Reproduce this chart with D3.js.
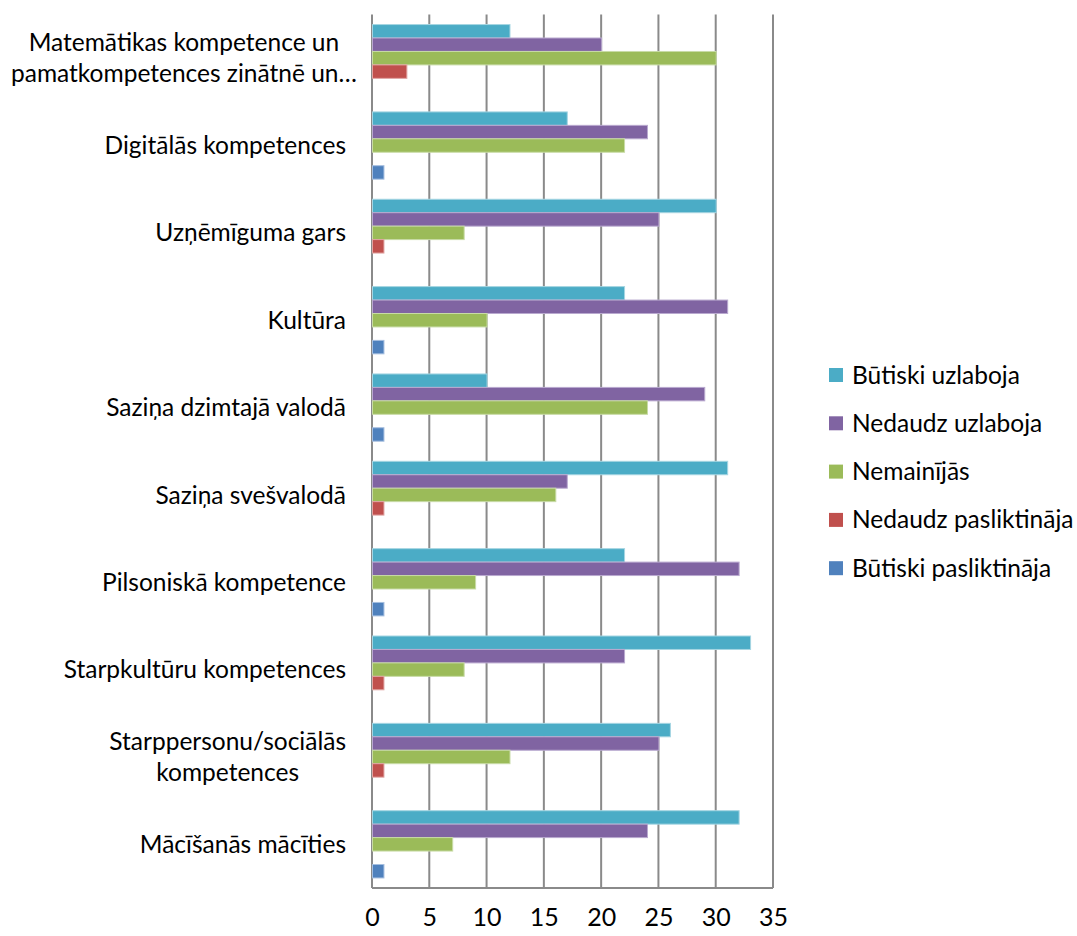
<!DOCTYPE html>
<html>
<head>
<meta charset="utf-8">
<script src="https://cdn.jsdelivr.net/npm/d3@7"></script>
<style>
  html, body { margin: 0; padding: 0; background: #fff; }
  svg { display: block; }
  text { font-family: Lato, "Open Sans", sans-serif; fill: #000; }
</style>
</head>
<body>
<svg id="chart" width="1077" height="936"></svg>
<script>
// Categories, top to bottom
const categories = [
  "Matemātikas kompetence un|pamatkompetences zinātnē un…",
  "Digitālās kompetences",
  "Uzņēmīguma gars",
  "Kultūra",
  "Saziņa dzimtajā valodā",
  "Saziņa svešvalodā",
  "Pilsoniskā kompetence",
  "Starpkultūru kompetences",
  "Starppersonu/sociālās|kompetences",
  "Mācīšanās mācīties"
];

const seriesNames = [
  "Būtiski uzlaboja",
  "Nedaudz uzlaboja",
  "Nemainījās",
  "Nedaudz pasliktināja",
  "Būtiski pasliktināja"
];

// Values per series, in category order
const butiskiUzlaboja     = [12, 17, 30, 22, 10, 31, 22, 33, 26, 32];
const nedaudzUzlaboja     = [20, 24, 25, 31, 29, 17, 32, 22, 25, 24];
const nemainijas          = [30, 22,  8, 10, 24, 16,  9,  8, 12,  7];
const nedaudzPasliktinaja = [ 3,  0,  1,  0,  0,  1,  0,  1,  1,  0];
const butiskiPasliktinaja = [ 0,  1,  0,  1,  1,  0,  1,  0,  0,  1];

const xTicks = [0, 5, 10, 15, 20, 25, 30, 35];

const seriesValues = [butiskiUzlaboja, nedaudzUzlaboja, nemainijas, nedaudzPasliktinaja, butiskiPasliktinaja];
const fills   = ["#4BACC6", "#8064A2", "#9BBB59", "#C0504D", "#4F81BD"];
const strokes = ["#A5D5E2", "#B9A9CF", "#C8DBA6", "#E0A5A3", "#A5BEDF"];

const svg = d3.select("#chart");
const plot = { left: 372, right: 773, top: 14.5, bottom: 888 };

const x = d3.scaleLinear().domain([0, 35]).range([plot.left, plot.right]);
const y0 = d3.scaleBand().domain(d3.range(categories.length))
  .range([plot.top, plot.bottom]).paddingInner(0.2302).paddingOuter(0.1151);
const y1 = d3.scaleBand().domain(d3.range(seriesNames.length)).range([0, y0.bandwidth()]);

// Vertical gridlines (including the one at 0)
svg.append("g").selectAll("line").data(xTicks).join("line")
  .attr("x1", d => x(d)).attr("x2", d => x(d))
  .attr("y1", plot.top).attr("y2", plot.bottom)
  .attr("stroke", "#8a8a8a").attr("stroke-width", 2);

// Bottom axis line
svg.append("line")
  .attr("x1", plot.left).attr("x2", plot.right)
  .attr("y1", plot.bottom).attr("y2", plot.bottom)
  .attr("stroke", "#8a8a8a").attr("stroke-width", 2);

// Bars
const groups = svg.append("g").selectAll("g").data(categories).join("g")
  .attr("transform", (d, i) => `translate(0,${y0(i)})`);

groups.selectAll("rect")
  .data((d, i) => seriesValues.map((vals, s) => ({ s, v: vals[i] })))
  .join("rect")
  .filter(d => d.v > 0)
  .attr("x", x(0) + 0.5)
  .attr("y", d => y1(d.s))
  .attr("width", d => x(d.v) - x(0))
  .attr("height", y1.bandwidth())
  .attr("fill", d => fills[d.s])
  .attr("stroke", d => strokes[d.s])
  .attr("stroke-width", 1);

// X tick labels
const xAxis = d3.axisBottom(x).tickValues(xTicks).tickSize(0).tickPadding(20);
svg.append("g").attr("transform", `translate(0,${plot.bottom})`)
  .call(xAxis)
  .call(g => g.select(".domain").remove())
  .call(g => g.selectAll("text").style("font-size", "25px").style("font-family", "Lato, sans-serif").attr("fill", "#000"));

// Category labels
const labelRight = 346, labelLeftLimit = 11, lineH = 31;
categories.forEach((c, i) => {
  const lines = c.split("|");
  const cy = y0(i) + y0.bandwidth() / 2;
  const t = svg.append("text").style("font-size", "24.5px");
  if (lines.length === 1) {
    t.attr("x", labelRight).attr("y", cy).attr("dy", "0.35em")
      .attr("text-anchor", "end").text(lines[0]);
  } else {
    t.attr("text-anchor", "middle");
    const spans = lines.map((l, k) => t.append("tspan")
      .attr("y", cy + (k - (lines.length - 1) / 2) * lineH).attr("dy", "0.35em").text(l));
    const w = d3.max(spans, s => s.node().getComputedTextLength());
    const cx = Math.max(labelRight - w / 2, labelLeftLimit + w / 2);
    spans.forEach(s => s.attr("x", cx));
  }
});

// Legend
const legend = svg.append("g").selectAll("g").data(seriesNames).join("g")
  .attr("transform", (d, i) => `translate(829,${375 + i * 48.3})`);
legend.append("rect").attr("x", 0).attr("y", -7).attr("width", 14).attr("height", 14)
  .attr("fill", (d, i) => fills[i]);
legend.append("text").attr("x", 23).attr("y", 0).attr("dy", "0.35em")
  .style("font-size", "24.5px").text(d => d);
</script>
</body>
</html>
